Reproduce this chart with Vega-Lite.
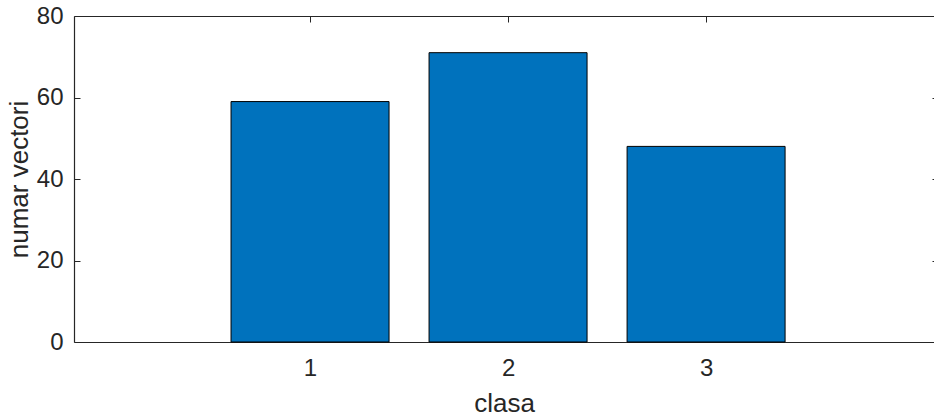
{
  "$schema": "https://vega.github.io/schema/vega-lite/v6.json",
  "autosize": {"type": "none"},
  "width": 860,
  "height": 326,
  "padding": {"left": 74, "top": 16, "right": 0, "bottom": 75},
  "background": "white",
  "config": {
    "view": {"stroke": null},
    "font": "Liberation Sans",
    "scale": {"continuousPadding": 0},
    "axis": {
      "domainColor": "#262626",
      "domainWidth": 1.2,
      "tickColor": "#262626",
      "labelColor": "#262626",
      "titleColor": "#262626",
      "labelFont": "Liberation Sans",
      "titleFont": "Liberation Sans",
      "labelFontSize": 24,
      "titleFontSize": 26,
      "titleFontWeight": "normal",
      "grid": false,
      "tickSize": -6
    }
  },
  "data": {"values": [
    {"clasa": 1, "numar": 59},
    {"clasa": 2, "numar": 71},
    {"clasa": 3, "numar": 48}
  ]},
  "layer": [
    {
      "mark": {"type": "bar", "width": 158, "color": "#0072BD", "stroke": "#000000", "strokeWidth": 1},
      "encoding": {
        "x": {"field": "clasa", "type": "quantitative",
              "scale": {"domain": [-0.192, 4.151], "nice": false, "zero": false, "padding": 0},
              "axis": {"values": [1, 2, 3], "format": "d", "title": "clasa", "labelPadding": 20, "titlePadding": 10}},
        "y": {"field": "numar", "type": "quantitative",
              "scale": {"domain": [0, 80], "nice": false, "padding": 0},
              "axis": {"values": [0, 20, 40, 60, 80], "title": "numar vectori", "labelPadding": 17, "titlePadding": 4}}
      }
    },
    {
      "mark": {"type": "bar", "width": 158, "opacity": 0},
      "encoding": {
        "x": {"field": "clasa", "type": "quantitative",
              "scale": {"domain": [-0.192, 4.151], "nice": false, "zero": false, "padding": 0},
              "axis": {"orient": "top", "values": [1, 2, 3], "labels": false, "title": null}},
        "y": {"field": "numar", "type": "quantitative",
              "scale": {"domain": [0, 80], "nice": false, "padding": 0},
              "axis": {"orient": "right", "values": [20, 40, 60], "labels": false, "title": null, "domain": false, "tickSize": -2}}
      }
    }
  ],
  "resolve": {"axis": {"x": "independent", "y": "independent"}}
}
